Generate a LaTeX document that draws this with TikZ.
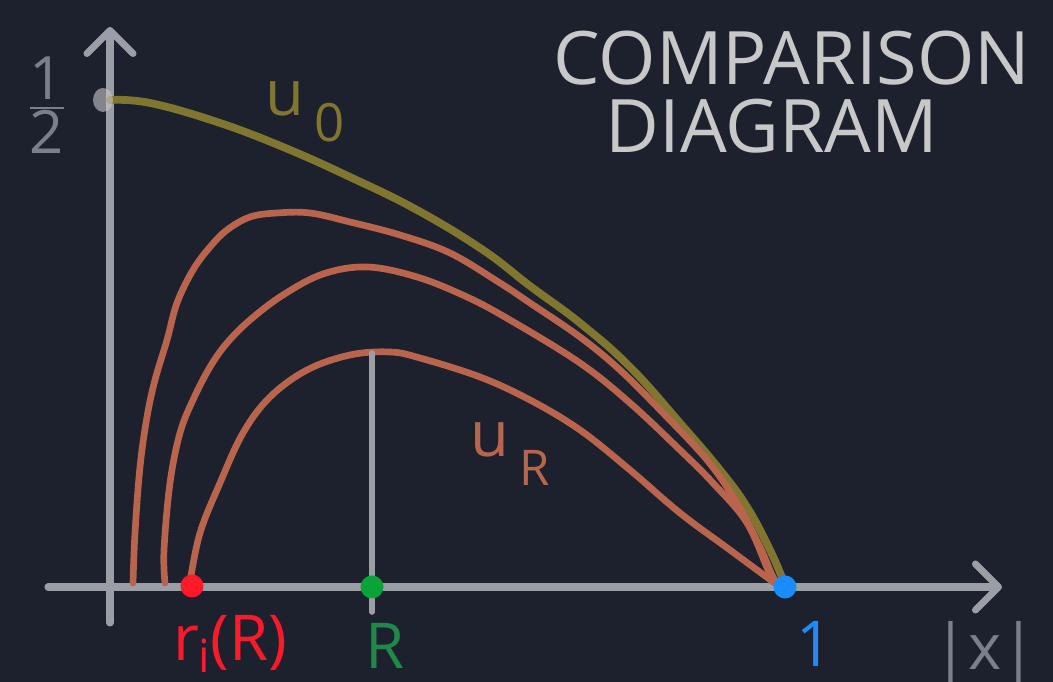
\documentclass[tikz,border=0pt]{standalone}
\usepackage{fontspec}
\setmainfont{Open Sans}
\usetikzlibrary{arrows.meta}
\definecolor{bgdark}{HTML}{1D212E}
\definecolor{axisgray}{HTML}{9B9EA5}
\definecolor{labelgray}{HTML}{7A808A}
\definecolor{titlegray}{HTML}{C8C8C8}
\definecolor{olive}{HTML}{80762F}
\definecolor{rust}{HTML}{B9644C}
\definecolor{dotred}{HTML}{FF1A2A}
\definecolor{dotgreen}{HTML}{0AA33A}
\definecolor{labgreen}{HTML}{1E8A4A}
\definecolor{dotblue}{HTML}{1A8CFF}
\begin{document}
\begin{tikzpicture}[
	axisline/.style={draw=axisgray,line width=2pt,line cap=round,-{Straight Barb[length=2.3mm,width=4.6mm,line width=2pt,round]}},
	ucurve/.style={line width=1.9pt,line cap=round,line join=round},
	dotmark/.style={circle,inner sep=0pt,minimum size=2.3mm},
	lab/.style={font=\fontsize{18}{20}\selectfont},
	titletext/.style={titlegray,font=\fontsize{21}{24}\selectfont},
	]
	\fill[bgdark] (0,0) rectangle (10.53,6.82);
	\useasboundingbox (0,0) rectangle (10.53,6.82);
	% axes
	\coordinate (ybot) at (1.10,0.59);
	\coordinate (ytop) at (1.10,6.55);
	\coordinate (xleft) at (0.48,0.95);
	\coordinate (xright) at (10.02,0.95);
	\draw[axisline] (ybot) -- (ytop);
	\draw[axisline] (xleft) -- (xright);
	\node[labelgray,font=\fontsize{17}{19}\selectfont] (half) at (0.47,5.77) {$\frac{\mbox{1}}{\mbox{2}}$};
	\node[lab,labelgray] (absx) at (9.85,0.29) {|x|};
	% u_0
	\draw[ucurve,olive,line width=2.2pt] plot[smooth,tension=0.7] coordinates {(1.10,5.82) (1.50,5.79) (2.17,5.60) (2.83,5.35) (3.50,5.05) (4.17,4.72) (4.83,4.32) (5.30,3.96) (5.80,3.59) (6.30,3.15) (6.80,2.59) (7.20,2.12) (7.47,1.75) (7.70,1.32) (7.85,0.97)};
	\fill[titlegray,opacity=0.6] (1.03,5.82) ellipse (0.1 and 0.12);
	\node[lab,olive] (uzero) at (3.05,5.70) {u\,\raisebox{-0.4em}{\fontsize{15}{17}\selectfont 0}};
	% family of u_R
	\draw[ucurve,rust] plot[smooth,tension=0.6] coordinates {(1.33,0.99) (1.35,1.49) (1.40,2.15) (1.47,2.65) (1.55,3.02) (1.67,3.42) (1.77,3.79) (1.93,4.12) (2.10,4.35) (2.27,4.52) (2.50,4.65) (2.77,4.69) (3.10,4.69) (3.50,4.60) (4.00,4.47) (4.50,4.29) (5.00,3.99) (5.30,3.79) (5.80,3.45) (6.20,3.12) (6.63,2.69) (7.07,2.22) (7.37,1.79) (7.60,1.35) (7.73,1.05) (7.80,0.97)};
	\draw[ucurve,rust] plot[smooth,tension=0.6] coordinates {(1.65,0.99) (1.64,1.32) (1.70,1.99) (1.80,2.49) (1.93,2.82) (2.10,3.15) (2.27,3.39) (2.50,3.62) (2.83,3.87) (3.23,4.08) (3.67,4.15) (4.17,4.05) (4.67,3.85) (5.10,3.62) (5.80,3.19) (6.30,2.79) (6.80,2.32) (7.13,1.99) (7.47,1.59) (7.70,1.08) (7.80,0.97)};
	\draw[ucurve,rust] plot[smooth,tension=0.6] coordinates {(1.90,1.00) (2.00,1.49) (2.20,1.99) (2.43,2.49) (2.70,2.85) (3.07,3.12) (3.50,3.27) (3.90,3.30) (4.20,3.24) (4.80,3.05) (5.30,2.82) (5.80,2.52) (6.30,2.12) (6.80,1.69) (7.30,1.32) (7.80,0.95)};
	\node[lab,rust] (uR) at (5.10,2.28) {u\,\raisebox{-0.45em}{\fontsize{14}{16}\selectfont R}};
	% R marker
	\coordinate (peak) at (3.72,3.29);
	\coordinate (Rbot) at (3.72,0.70);
	\draw[axisgray,line width=1.6pt,line cap=round] (peak) -- (Rbot);
	\node[dotmark,fill=dotred] (ri) at (1.92,0.96) {};
	\node[dotmark,fill=dotgreen] (R) at (3.72,0.95) {};
	\node[dotmark,fill=dotblue] (one) at (7.85,0.95) {};
	\node[lab,dotred] (rilab) at (2.30,0.38) {r\raisebox{-0.2em}{\fontsize{13}{15}\selectfont i}(R)};
	\node[lab,labgreen] (Rlab) at (3.85,0.36) {R};
	\node[lab,dotblue] (onelab) at (8.15,0.38) {1};
	% title
	\node[titletext] (comp) at (7.92,6.24) {COMPARISON};
	\node[titletext] (diag) at (7.72,5.56) {DIAGRAM};
\end{tikzpicture}
\end{document}
